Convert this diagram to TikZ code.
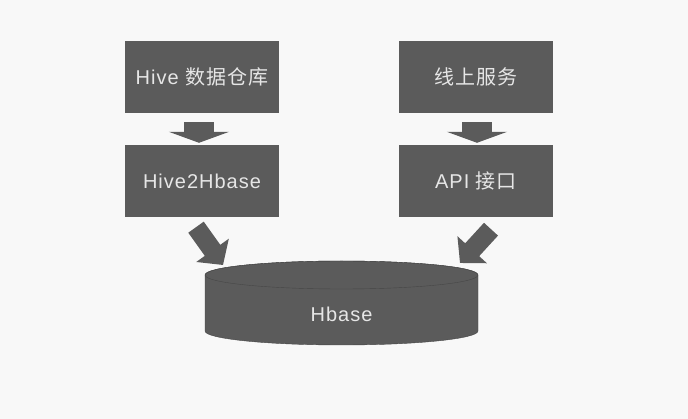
\documentclass[tikz,border=0pt]{standalone}
\usepackage{fontspec}
\setmainfont{Liberation Sans}[LetterSpace=5]
\newfontfamily\cjk{Noto Sans CJK SC}[LetterSpace=5]
\usetikzlibrary{arrows.meta}
\definecolor{boxgray}{HTML}{5B5B5B}
\definecolor{textgray}{HTML}{E6E6E6}
\definecolor{bggray}{HTML}{F8F8F8}
\definecolor{edgegray}{HTML}{474747}
\begin{document}
\begin{tikzpicture}[x = 1pt, y = -1pt,
  box/.style = {fill = boxgray, text = textgray, minimum width = 154pt, minimum height = 72pt, inner sep = 0pt, font = \fontsize{20}{24}\selectfont},
  dbtext/.style = {text = textgray, inner sep = 0pt, font = \fontsize{20}{24}\selectfont},
  fatarrow/.style = {draw = boxgray, line width = 30pt, -{Triangle[length = 11pt, width = 60pt]}},
  slimarrow/.style = {draw = boxgray, line width = 19pt, -{Triangle[length = 18pt, width = 39pt]}}]
\fill[bggray] (0,0) rectangle (688,419);
\useasboundingbox (0,0) rectangle (688,419);
\node[box] at (202,77) (hive) {Hive {\cjk 数据仓库}};
\node[box] at (202,181) (h2h) {Hive2Hbase};
\node[box] at (476,77) (online) {{\cjk 线上服务}};
\node[box] at (476,181) (api) {API {\cjk 接口}};
\filldraw[fill = boxgray, draw = edgegray, thin] (205,275) -- (205,331) arc [start angle = 180, end angle = 0, x radius = 136.5, y radius = 14] -- (478,275) arc [start angle = 0, end angle = -180, x radius = 136.5, y radius = 14] -- cycle;
\draw[edgegray, thin] (341.5,275) ellipse [x radius = 136.5, y radius = 14];
\node[dbtext] at (341.5,314) (db) {Hbase};
\draw[fatarrow] ([shift = {(-3,9)}]hive.south) -- ([shift = {(-3,-2)}]h2h.north);
\draw[fatarrow] ([shift = {(1,9)}]online.south) -- ([shift = {(1,-2)}]api.north);
\draw[slimarrow] ([shift = {(-6,10)}]h2h.south) -- ([shift = {(-118.5,-49)}]db.center);
\draw[slimarrow] ([shift = {(15,12)}]api.south) -- ([shift = {(118.5,-51)}]db.center);
\end{tikzpicture}
\end{document}
